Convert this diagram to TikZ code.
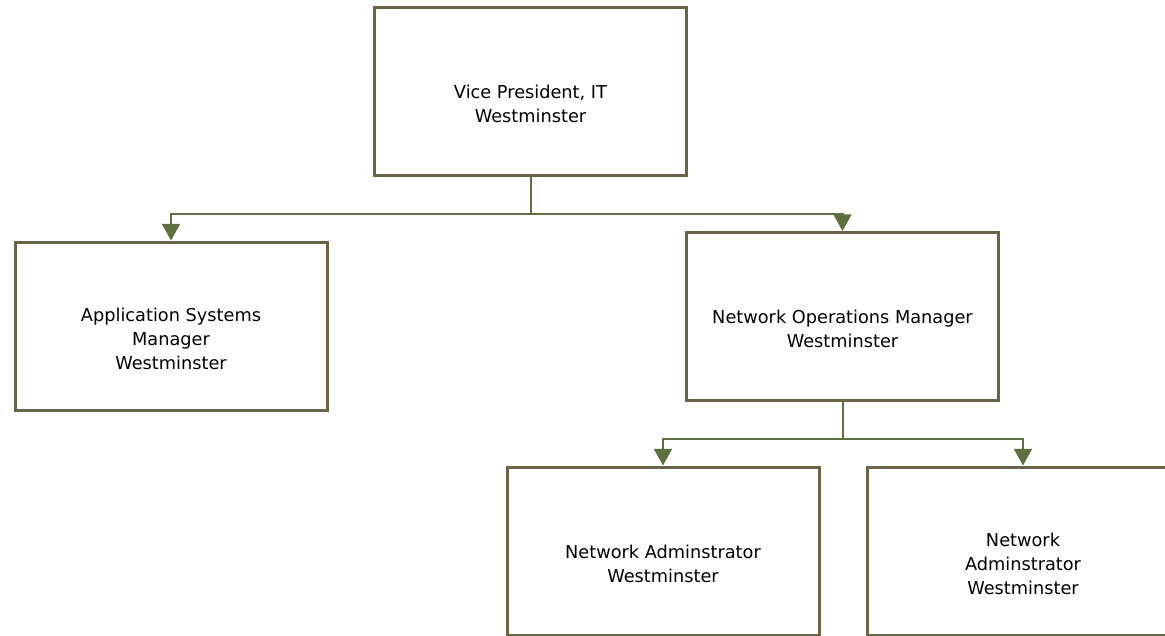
\documentclass[tikz,border=0pt]{standalone}
\usepackage{fontspec}
\setmainfont{DejaVu Sans}
\usetikzlibrary{arrows.meta}
\definecolor{postline}{RGB}{105,99,72}
\definecolor{linkline}{RGB}{94,112,64}

\begin{document}
\begin{tikzpicture}[x=0.75pt, y=-0.75pt,
                    post text/.style={align=center, yshift=-9.5pt,
                                      font=\fontsize{13.3}{18}\selectfont},
                    post/.style={draw=postline, line width=2.25pt, fill=white,
                                 minimum width=234pt, minimum height=126pt,
                                 label={[post text]center:{#1}}},
                    link/.style={draw=linkline, line width=1.5pt,
                                 -{Triangle[width=13.5pt,length=12.5pt]}}]
  \useasboundingbox (0,0) rectangle (1165,636);
  \clip (0,0) rectangle (1165,636);

  \node[post={Vice President, IT\\Westminster}]          (vp)  at (530.5,91)   {};
  \node[post={Application Systems\\Manager\\Westminster}] (app) at (171,326)    {};
  \node[post={Network Operations Manager\\Westminster}]  (nom) at (842.5,316.5) {};
  \node[post={Network Adminstrator\\Westminster}]        (na1) at (663,551)    {};
  \node[post={Network\\Adminstrator\\Westminster}]       (na2) at (1023,551)   {};

  \draw[link] (vp.south) -- ++(0,37) coordinate (vpfork) -| (app.north);
  \draw[link] (vpfork) -| (nom.north);
  \draw[link] (nom.south) -- ++(0,37) coordinate (nomfork) -| (na1.north);
  \draw[link] (nomfork) -| (na2.north);
\end{tikzpicture}
\end{document}
